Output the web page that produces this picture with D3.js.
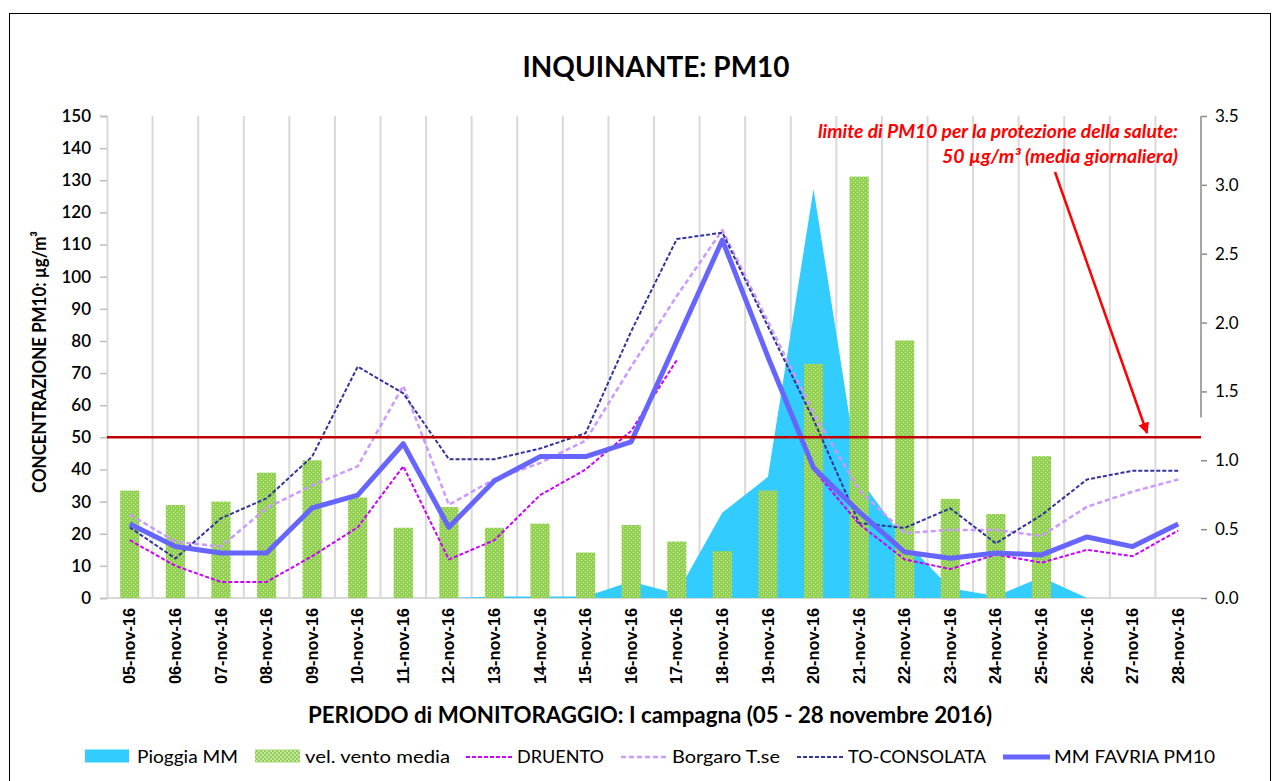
<!DOCTYPE html>
<html><head><meta charset="utf-8">
<script src="https://cdn.jsdelivr.net/npm/d3@7"></script>
<style>
body{margin:0;background:#fff;}
svg{display:block;font-family:Lato,"Open Sans",sans-serif;}
</style>
</head><body>
<svg id="chart" width="1279" height="781"></svg>
<script>
// ---------- DATA ----------
const days = ["05-nov-16","06-nov-16","07-nov-16","08-nov-16","09-nov-16","10-nov-16","11-nov-16","12-nov-16",
  "13-nov-16","14-nov-16","15-nov-16","16-nov-16","17-nov-16","18-nov-16","19-nov-16","20-nov-16",
  "21-nov-16","22-nov-16","23-nov-16","24-nov-16","25-nov-16","26-nov-16","27-nov-16","28-nov-16"];
// Pioggia MM (right axis)
const pioggia = [0,0,0,0,0,0,0,0,0.01,0.01,0.01,0.12,0.03,0.62,0.88,2.97,0.87,0.42,0.07,0.015,0.15,0,0,0];
// vel. vento media (right axis)
const vento = [0.78,0.675,0.70,0.91,1.00,0.73,0.51,0.66,0.51,0.54,0.33,0.53,0.41,0.34,0.78,1.70,3.06,1.87,0.72,0.61,1.03,null,null,null];
// PM10 (left axis)
const druento = [18,10,5,5,13,22,41,12,18,32,40,52,74,null,null,40,23,12,9,13.5,11,15,13,21];
const borgaro = [26,17.5,16,28,35,41,66,29,37,42,49,72,94,114.5,86,57.5,33.6,20.2,21.2,21.2,19.3,28.4,33.1,36.9];
const consolata = [22,12.3,24.8,31,44,72,63.7,43.2,43.2,46.5,51.3,83,111.7,113.7,84.5,55.5,23.3,21.8,27.9,17,25.8,36.9,39.6,39.6];
const favria = [23,16,14,14,28,32,48,22,36.5,44,44,48.6,80,111.4,75,40.5,26.8,14.3,12.4,14,13.4,19,16,23];
const leftTicks = [0,10,20,30,40,50,60,70,80,90,100,110,120,130,140,150];
const rightTicks = [0,0.5,1.0,1.5,2.0,2.5,3.0,3.5];
const limitValue = 50;

const seriesNames = ["Pioggia MM","vel. vento media","DRUENTO","Borgaro T.se","TO-CONSOLATA","MM FAVRIA PM10"];

// ---------- LAYOUT ----------
const svg = d3.select("#chart");
const L = 107, R = 1201, T = 116, B = 598;
const x = d3.scaleBand().domain(days).range([L, R]).padding(0);
const bw = x.bandwidth();
const cx = d => x(d) + bw / 2;
const yL = d3.scaleLinear().domain([0, 150]).range([B, T]);
const yR = d3.scaleLinear().domain([0, 3.5]).range([B, T]);

// outer border
svg.append("rect").attr("x", 9.5).attr("y", 13.5).attr("width", 1261).attr("height", 800)
  .attr("fill", "none").attr("stroke", "#000").attr("stroke-width", 1);

// pattern for wind bars
const defs = svg.append("defs");
const pat = defs.append("pattern").attr("id", "green").attr("patternUnits", "userSpaceOnUse")
  .attr("width", 4).attr("height", 4);
pat.append("rect").attr("width", 4).attr("height", 4).attr("fill", "#92d050");
pat.append("rect").attr("x", 1).attr("y", 0).attr("width", 1).attr("height", 1).attr("fill", "#d6ecc0");
pat.append("rect").attr("x", 3).attr("y", 2).attr("width", 1).attr("height", 1).attr("fill", "#d6ecc0");
const pat2 = defs.append("pattern").attr("id", "greenLeg").attr("patternUnits", "userSpaceOnUse")
  .attr("width", 4).attr("height", 4);
pat2.append("rect").attr("width", 4).attr("height", 4).attr("fill", "#92d050");
pat2.append("rect").attr("x", 0).attr("y", 0).attr("width", 2).attr("height", 2).attr("fill", "#c5e3a6");
pat2.append("rect").attr("x", 2).attr("y", 2).attr("width", 2).attr("height", 2).attr("fill", "#c5e3a6");

// vertical gridlines at category boundaries
const bounds = days.slice(1).map(d => x(d));
svg.append("g").selectAll("line").data(bounds).join("line")
  .attr("x1", d => d).attr("x2", d => d).attr("y1", T).attr("y2", B)
  .attr("stroke", "#d9d9d9").attr("stroke-width", 2);

// left axis
const gL = svg.append("g").attr("transform", `translate(${L},0)`)
  .call(d3.axisLeft(yL).tickValues(leftTicks).tickSize(7).tickPadding(9).tickFormat(d3.format("d")));
gL.select(".domain").attr("stroke", "#d9d9d9").attr("stroke-width", 2);
gL.selectAll(".tick line").attr("stroke", "#bfbfbf").attr("stroke-width", 1.5);
gL.selectAll(".tick text").attr("font-size", 17).attr("font-weight", 600).attr("fill", "#000")
  .attr("font-family", "Lato");

// right axis
const gR = svg.append("g").attr("transform", `translate(${R},0)`)
  .call(d3.axisRight(yR).tickValues(rightTicks).tickSize(6).tickPadding(8).tickFormat(d3.format(".1f")));
gR.select(".domain").remove();
gR.append("line").attr("x1", 0).attr("x2", 0).attr("y1", yR(3.5)).attr("y2", yR(1.31))
  .attr("stroke", "#a6a6a6").attr("stroke-width", 2);
gR.selectAll(".tick line").attr("stroke", "#8c8c8c").attr("stroke-width", 1.5);
gR.selectAll(".tick text").attr("font-size", 17).attr("fill", "#000").attr("font-family", "Lato");

// bottom axis line
svg.append("line").attr("x1", L).attr("x2", R).attr("y1", B).attr("y2", B)
  .attr("stroke", "#d9d9d9").attr("stroke-width", 2);

// x axis labels
const gX = svg.append("g").attr("transform", `translate(0,${B})`)
  .call(d3.axisBottom(x).tickSize(0).tickPadding(0));
gX.select(".domain").remove();
gX.selectAll(".tick text").attr("font-size", 16).attr("font-weight", 700).attr("fill", "#000")
  .attr("text-anchor", "end").attr("transform", "rotate(-90)")
  .attr("x", -10).attr("y", 0).attr("dy", "0.35em")
  .attr("textLength", 76).attr("lengthAdjust", "spacingAndGlyphs");

// rain area
const area = d3.area().x((d, i) => cx(days[i])).y0(yR(0)).y1(d => yR(d));
svg.append("path").datum(pioggia).attr("d", area).attr("fill", "#33ccff");

// wind bars
const barW = bw * 0.42;
svg.append("g").selectAll("rect").data(vento.map((v, i) => ({v, d: days[i]})).filter(o => o.v != null))
  .join("rect")
  .attr("x", o => cx(o.d) - barW / 2).attr("width", barW)
  .attr("y", o => yR(o.v)).attr("height", o => yR(0) - yR(o.v))
  .attr("fill", "url(#green)");

// lines
const line = d3.line().defined(d => d != null).x((d, i) => cx(days[i])).y(d => yL(d));
function drawLine(data, color, w, dash) {
  svg.append("path").datum(data).attr("d", line).attr("fill", "none")
    .attr("stroke", color).attr("stroke-width", w).attr("stroke-dasharray", dash)
    .attr("stroke-linejoin", "round");
}
drawLine(druento, "#cc00ff", 2, "4,2");
drawLine(borgaro, "#cc99ff", 2.5, "5,3");
drawLine(consolata, "#333399", 2, "4,2");
drawLine(favria, "#6666ff", 5, null);

// limit line
svg.append("line").attr("x1", L).attr("x2", R).attr("y1", yL(limitValue)).attr("y2", yL(limitValue))
  .attr("stroke", "#c00000").attr("stroke-width", 2.5);

// annotation
const ann = svg.append("g").attr("fill", "#ff0000").attr("font-weight", 700).attr("font-style", "italic")
  .attr("font-size", 18).attr("text-anchor", "end");
ann.append("text").attr("x", 1178).attr("y", 138).text("limite di PM10 per la protezione della salute:")
  .attr("textLength", 360).attr("lengthAdjust", "spacingAndGlyphs");
ann.append("text").attr("x", 1178).attr("y", 163).text("50 µg/m³ (media giornaliera)")
  .attr("textLength", 236).attr("lengthAdjust", "spacingAndGlyphs");
defs.append("marker").attr("id", "arr").attr("viewBox", "0 0 10 10").attr("refX", 9).attr("refY", 5)
  .attr("markerWidth", 4.5).attr("markerHeight", 4.5).attr("orient", "auto")
  .append("path").attr("d", "M0,0 L10,5 L0,10 z").attr("fill", "#ff0000");
svg.append("line").attr("x1", 1055).attr("y1", 172).attr("x2", 1147).attr("y2", 433)
  .attr("stroke", "#ff0000").attr("stroke-width", 2.5).attr("marker-end", "url(#arr)");

// titles
svg.append("text").attr("x", 656).attr("y", 77).attr("text-anchor", "middle")
  .attr("font-size", 28).attr("font-weight", 700).attr("fill", "#000")
  .attr("textLength", 267).attr("lengthAdjust", "spacingAndGlyphs").text("INQUINANTE: PM10");
svg.append("text").attr("x", 650).attr("y", 723).attr("text-anchor", "middle")
  .attr("font-size", 22).attr("font-weight", 700).attr("fill", "#000")
  .attr("textLength", 684).attr("lengthAdjust", "spacingAndGlyphs")
  .text("PERIODO di MONITORAGGIO: I campagna (05 - 28 novembre 2016)");
svg.append("text").attr("transform", "translate(46,362) rotate(-90)").attr("text-anchor", "middle")
  .attr("font-size", 19).attr("font-weight", 700).attr("fill", "#000")
  .attr("textLength", 262).attr("lengthAdjust", "spacingAndGlyphs")
  .text("CONCENTRAZIONE PM10: µg/m³");

// legend
const legY = 756;
const leg = svg.append("g").attr("font-size", 18).attr("fill", "#000");
const legItems = [
  {name: seriesNames[0], type: "area", x0: 85, tx: 137, tw: 101},
  {name: seriesNames[1], type: "bar", x0: 255, tx: 305, tw: 145},
  {name: seriesNames[2], type: "line", x0: 466, tx: 517, tw: 87, color: "#cc00ff", w: 2, dash: "4,2"},
  {name: seriesNames[3], type: "line", x0: 621, tx: 672, tw: 108, color: "#cc99ff", w: 2.5, dash: "5,3"},
  {name: seriesNames[4], type: "line", x0: 797, tx: 848, tw: 138, color: "#333399", w: 2, dash: "4,2"},
  {name: seriesNames[5], type: "line", x0: 1003, tx: 1054, tw: 161, color: "#6666ff", w: 5, dash: null}
];
legItems.forEach(it => {
  if (it.type === "area") {
    leg.append("rect").attr("x", it.x0).attr("y", legY - 6.5).attr("width", 44).attr("height", 13).attr("fill", "#33ccff");
  } else if (it.type === "bar") {
    leg.append("rect").attr("x", it.x0).attr("y", legY - 6.5).attr("width", 45).attr("height", 13).attr("fill", "url(#greenLeg)");
  } else {
    leg.append("line").attr("x1", it.x0).attr("x2", it.x0 + 47).attr("y1", legY + 1).attr("y2", legY + 1)
      .attr("stroke", it.color).attr("stroke-width", it.w).attr("stroke-dasharray", it.dash);
  }
  leg.append("text").attr("x", it.tx).attr("y", legY + 7).text(it.name)
    .attr("textLength", it.tw).attr("lengthAdjust", "spacingAndGlyphs");
});
</script>
</body></html>
